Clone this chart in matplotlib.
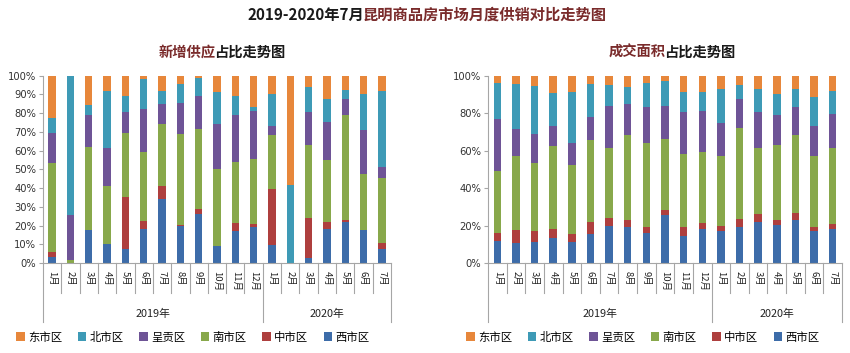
import numpy as np
import matplotlib
matplotlib.use('Agg')
import matplotlib.pyplot as plt
import matplotlib.transforms as mtransforms

plt.rcParams['font.family'] = ['Noto Sans CJK SC', 'DejaVu Sans']

months = ['1月', '2月', '3月', '4月', '5月', '6月', '7月', '8月', '9月', '10月', '11月', '12月',
          '1月', '2月', '3月', '4月', '5月', '6月', '7月']
years = ['2019年', '2020年']
year_counts = [12, 7]

districts = ['西市区', '中市区', '南市区', '呈贡区', '北市区', '东市区']
colors = ['#3D6CA9', '#AE3F3E', '#88A84B', '#6E5496', '#3E9AB6', '#E7873B']

# 新增供应占比 (%), 自下而上: 西 中 南 呈贡 北 东
supply_xi = [3.4, 0, 17.6, 10.1, 7.5, 18.3, 34.3, 19.9, 26.3, 9.3, 17.1, 19.0,
             9.6, 0, 2.8, 18.0, 22.1, 17.6, 7.3]
supply_zhong = [2.3, 0, 0, 0, 27.9, 4.3, 7.0, 0.6, 2.5, 0, 4.1, 1.8,
                29.7, 0, 21.0, 3.7, 0.7, 0, 3.2]
supply_nan = [47.7, 1.5, 44.1, 31.2, 33.8, 36.7, 32.9, 48.4, 42.7, 40.9, 32.5, 34.7,
              29.0, 0, 39.0, 33.3, 56.2, 30.1, 34.9]
supply_cg = [16.2, 24.3, 17.3, 20.3, 11.2, 23.1, 10.7, 16.7, 17.5, 23.8, 25.3, 25.5,
             4.8, 0, 17.8, 20.1, 8.5, 23.1, 6.0]
supply_bei = [8.0, 74.2, 5.2, 30.4, 8.6, 15.6, 7.1, 10.0, 9.6, 17.5, 10.3, 2.1,
              16.9, 41.5, 13.2, 12.4, 4.8, 19.6, 40.2]
supply_dong = [22.4, 0, 15.8, 8.0, 11.0, 2.0, 8.0, 4.4, 1.4, 8.5, 10.7, 16.9,
               10.0, 58.5, 6.2, 12.5, 7.7, 9.6, 8.4]

# 成交面积占比 (%)
deal_xi = [11.6, 10.9, 11.4, 13.5, 11.2, 15.7, 19.9, 19.0, 15.8, 25.4, 14.6, 18.0,
           17.1, 19.4, 21.9, 20.1, 23.0, 17.3, 18.0]
deal_zhong = [4.4, 6.9, 5.5, 4.6, 4.5, 6.0, 4.3, 3.8, 3.6, 2.7, 4.4, 3.2,
              2.7, 4.1, 4.1, 2.9, 3.5, 1.9, 2.8]
deal_nan = [33.1, 39.3, 36.7, 44.5, 36.4, 44.1, 37.4, 45.5, 44.8, 38.3, 39.0, 38.2,
            37.3, 48.4, 35.2, 40.0, 41.6, 38.1, 40.8]
deal_cg = [27.9, 14.3, 15.3, 10.5, 12.1, 12.0, 22.2, 16.8, 19.1, 17.6, 22.6, 21.7,
           17.6, 15.6, 19.4, 16.0, 15.0, 15.8, 17.8]
deal_bei = [19.1, 24.2, 25.6, 17.8, 27.3, 17.8, 11.2, 8.9, 12.6, 13.2, 10.7, 10.2,
            18.2, 7.5, 12.3, 11.0, 9.8, 15.7, 12.6]
deal_dong = [3.9, 4.4, 5.5, 9.1, 8.5, 4.4, 5.0, 6.0, 4.1, 2.8, 8.7, 8.7,
             7.1, 5.0, 7.1, 10.0, 7.1, 11.2, 8.0]

supply = [supply_xi, supply_zhong, supply_nan, supply_cg, supply_bei, supply_dong]
deal = [deal_xi, deal_zhong, deal_nan, deal_cg, deal_bei, deal_dong]

fig = plt.figure(figsize=(8.5, 3.53), dpi=100)
axes_h = 187.3 / 353
ax1 = fig.add_axes([43 / 850, 1 - 263 / 353, 348 / 850, axes_h])
ax2 = fig.add_axes([488 / 850, 1 - 263 / 353, 354 / 850, axes_h])

line_col = '#A6A6A6'


def draw_panel(ax, data, ystep):
    x = np.arange(len(months))
    bottom = np.zeros(len(months))
    bars = []
    for vals, col, name in zip(data, colors, districts):
        v = np.array(vals)
        b = ax.bar(x, v, 0.4, bottom=bottom, color=col, label=name, zorder=2)
        bars.append(b)
        bottom += v
    ax.set_xlim(-0.5, len(months) - 0.5)
    ax.set_ylim(0, 100)
    ax.set_yticks(np.arange(0, 101, ystep))
    ax.set_yticklabels([f'{t}%' for t in range(0, 101, ystep)], family='DejaVu Sans',
                       fontsize=7.2, color='#333333')
    ax.tick_params(axis='y', length=3, color=line_col, pad=2)
    ax.set_xticks([])
    for s in ['top', 'right']:
        ax.spines[s].set_visible(False)
    ax.spines['left'].set_color(line_col)
    ax.spines['bottom'].set_color(line_col)

    trans = mtransforms.blended_transform_factory(ax.transData, ax.transAxes)
    m_depth = -30 / 187.3
    y_depth = -59 / 187.3
    year_edges = np.cumsum([0] + year_counts) - 0.5
    for b in np.arange(len(months) + 1) - 0.5:
        d = y_depth if b in year_edges else m_depth
        ax.plot([b, b], [0, d], transform=trans, color=line_col, lw=0.8, clip_on=False)
    for i, m in enumerate(months):
        ax.text(i, -8 / 187.3, m, transform=trans, rotation=-90, ha='center', va='top',
                fontsize=6.8, color='#222222')
    for j, yname in enumerate(years):
        cx = (year_edges[j] + year_edges[j + 1]) / 2
        ax.text(cx, -51 / 187.3, yname, transform=trans, ha='center', va='center',
                fontsize=7.8, color='#222222')
    return bars


bars1 = draw_panel(ax1, supply, 10)
bars2 = draw_panel(ax2, deal, 20)

order = [5, 4, 3, 2, 1, 0]
for bars, cx in [(bars1, 193 / 850), (bars2, 643 / 850)]:
    fig.legend([bars[k] for k in order], [districts[k] for k in order],
               loc='center', bbox_to_anchor=(cx, 1 - 337 / 353), ncol=6, frameon=False,
               fontsize=8.2, handlelength=0.75, handleheight=0.75, handletextpad=0.3,
               columnspacing=1.35, borderpad=0)

title_red = '#7A2B2B'
renderer = fig.canvas.get_renderer()


def two_tone(cx, y, parts, size, gap=-2):
    # 两段不同颜色的标题, 以 cx 为中心紧密拼接 (gap 为像素修正)
    texts = [fig.text(0, y, s, ha='left', va='center', fontsize=size,
                      fontweight='bold', color=c) for s, c in parts]
    widths = [t.get_window_extent(renderer).width / fig.bbox.width for t in texts]
    g = gap / fig.bbox.width
    total = sum(widths) + g * (len(texts) - 1)
    x = cx - total / 2
    for t, w in zip(texts, widths):
        t.set_x(x)
        x += w + g


two_tone(427 / 850, 1 - 15 / 353,
         [('2019-2020年7月', '#1A1A1A'), ('昆明商品房市场月度供销对比走势图', title_red)], 11)
two_tone(222 / 850, 1 - 53 / 353, [('新增供应', title_red), ('占比走势图', '#1A1A1A')], 10.3)
two_tone(672 / 850, 1 - 53 / 353, [('成交面积', title_red), ('占比走势图', '#1A1A1A')], 10.3)

fig.savefig('out.png', dpi=100)
